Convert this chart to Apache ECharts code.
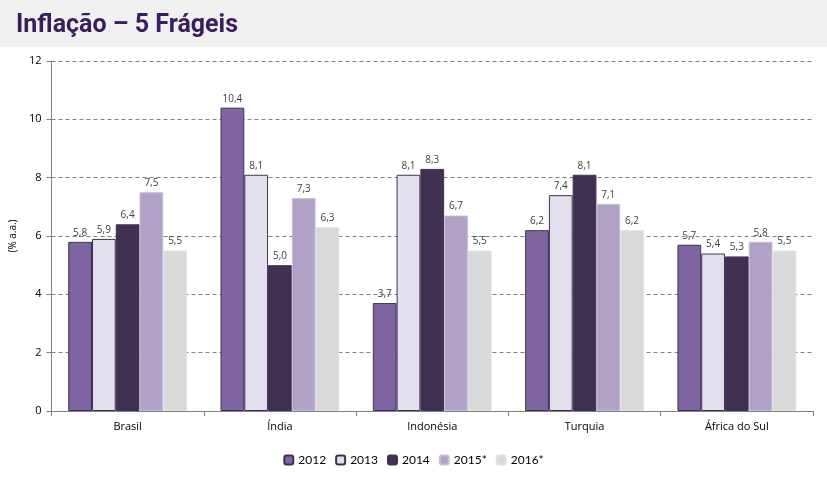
<!DOCTYPE html>
<html><head><meta charset="utf-8">
<script src="https://cdn.jsdelivr.net/npm/echarts@6/dist/echarts.min.js"></script>
<style>html,body{margin:0;padding:0;background:#fff}#c{width:827px;height:481px}</style>
</head><body><div id="c"></div>
<script>
const categories = ['Brasil', 'Índia', 'Indonésia', 'Turquia', 'África do Sul'];
const years = ['2012', '2013', '2014', '2015*', '2016*'];
const v2012 = [5.8, 10.4, 3.7, 6.2, 5.7];
const v2013 = [5.9, 8.1, 8.1, 7.4, 5.4];
const v2014 = [6.4, 5.0, 8.3, 8.1, 5.3];
const v2015 = [7.5, 7.3, 6.7, 7.1, 5.8];
const v2016 = [5.5, 6.3, 5.5, 6.2, 5.5];
const yTicks = [0, 2, 4, 6, 8, 10, 12];

const seriesData = [v2012, v2013, v2014, v2015, v2016];
const fills = ['#8064a2', '#e4dfec', '#403152', '#b2a1c7', '#d9d9d9'];
const borders = ['#3f3151', '#3f3151', '#3f3151', '#c8bcd8', '#e2e2e2'];

const chart = echarts.init(document.getElementById('c'));
chart.setOption({
  animation: false,
  backgroundColor: '#fff',
  graphic: [
    { type: 'rect', shape: { x: 0, y: 0, width: 827, height: 47 }, style: { fill: '#f0f0f0' }, z: -1 },
    { type: 'text', left: 16, top: 13, style: { text: 'Inflação – 5 Frágeis', font: 'bold 25px Roboto, sans-serif', fill: '#3b1d5c' } }
  ],
  grid: { left: 48, right: 14, top: 61, bottom: 70 },
  legend: {
    bottom: 10, left: 'center', itemWidth: 9, itemHeight: 9, itemGap: 9,
    textStyle: { fontSize: 12, color: '#000', fontFamily: 'Lato' },
    data: years
  },
  xAxis: {
    type: 'category', data: categories,
    axisLine: { lineStyle: { color: '#808080' } },
    axisTick: { show: true, alignWithLabel: false, length: 5, lineStyle: { color: '#808080' } },
    axisLabel: { color: '#000', fontSize: 11, margin: 10, fontFamily: 'Open Sans' }
  },
  yAxis: {
    type: 'value', min: 0, max: 12, interval: 2,
    name: '(% a.a.)', nameLocation: 'middle', nameGap: 22, nameRotate: 90,
    nameTextStyle: { fontSize: 10, color: '#000', fontFamily: 'Open Sans' },
    axisLine: { show: true, lineStyle: { color: '#808080' } },
    axisTick: { show: true, length: 5, lineStyle: { color: '#808080' } },
    axisLabel: { color: '#000', fontSize: 11, margin: 10, fontFamily: 'Open Sans',
      formatter: v => yTicks.includes(v) ? String(v) : '' },
    splitLine: { lineStyle: { color: '#808080', type: [4, 3] } }
  },
  series: seriesData.map((d, i) => ({
    name: years[i], type: 'bar', data: d,
    barGap: '0%', barCategoryGap: '22%',
    itemStyle: { color: fills[i], borderColor: borders[i], borderWidth: 1 },
    label: { show: true, position: 'top', distance: 4, fontSize: 10, color: '#404040', fontFamily: 'Open Sans',
      formatter: p => p.value.toFixed(1).replace('.', ',') }
  }))
});
</script></body></html>
